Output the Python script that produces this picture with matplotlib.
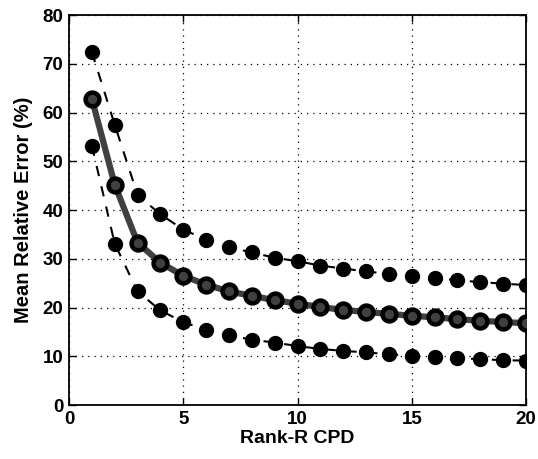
import numpy as np
import matplotlib.pyplot as plt

rank = list(range(1, 21))
mean_err = [62.8, 45.2, 33.3, 29.2, 26.5, 24.7, 23.3, 22.4, 21.5, 20.8,
            20.1, 19.5, 19.1, 18.7, 18.3, 18.0, 17.6, 17.3, 17.0, 16.8]
upper_err = [72.4, 57.5, 43.1, 39.1, 36.0, 33.9, 32.4, 31.3, 30.2, 29.5,
             28.6, 28.0, 27.4, 26.9, 26.4, 26.0, 25.6, 25.2, 24.9, 24.6]
lower_err = [53.2, 33.1, 23.3, 19.4, 17.0, 15.4, 14.3, 13.4, 12.8, 12.1,
             11.5, 11.1, 10.8, 10.4, 10.1, 9.8, 9.6, 9.4, 9.2, 9.1]

plt.rcParams['font.family'] = ['Liberation Sans', 'DejaVu Sans']
plt.rcParams['font.weight'] = 'bold'

fig = plt.figure(figsize=(5.38, 4.59), dpi=100)
ax = fig.add_axes([0.1283, 0.1176, 0.8494, 0.8497])

ax.plot(rank, upper_err, '--', color='black', lw=1.5, dashes=(5, 5),
        marker='o', ms=10, mfc='black', mec='black', zorder=3)
ax.plot(rank, lower_err, '--', color='black', lw=1.5, dashes=(5, 5),
        marker='o', ms=10, mfc='black', mec='black', zorder=3)
ax.plot(rank, mean_err, '-', color='#404040', lw=4.5,
        marker='o', ms=10, mfc='#404040', mec='black', mew=3.2, zorder=4)

ax.set_xlim(0, 20)
ax.set_ylim(0, 80)
ax.set_xticks([0, 5, 10, 15, 20])
ax.set_yticks(range(0, 81, 10))
ax.grid(True, linestyle=(0, (1, 4)), color='black', lw=0.9)
ax.tick_params(direction='in', top=True, right=True, labelsize=13.5, length=5, width=1, pad=4)
for s in ax.spines.values():
    s.set_linewidth(1.3)

ax.set_xlabel('Rank-R CPD', fontsize=14, fontweight='bold', labelpad=2)
ax.set_ylabel('Mean Relative Error (%)', fontsize=14.5, fontweight='bold', labelpad=7)

fig.savefig('out.png', dpi=100)
